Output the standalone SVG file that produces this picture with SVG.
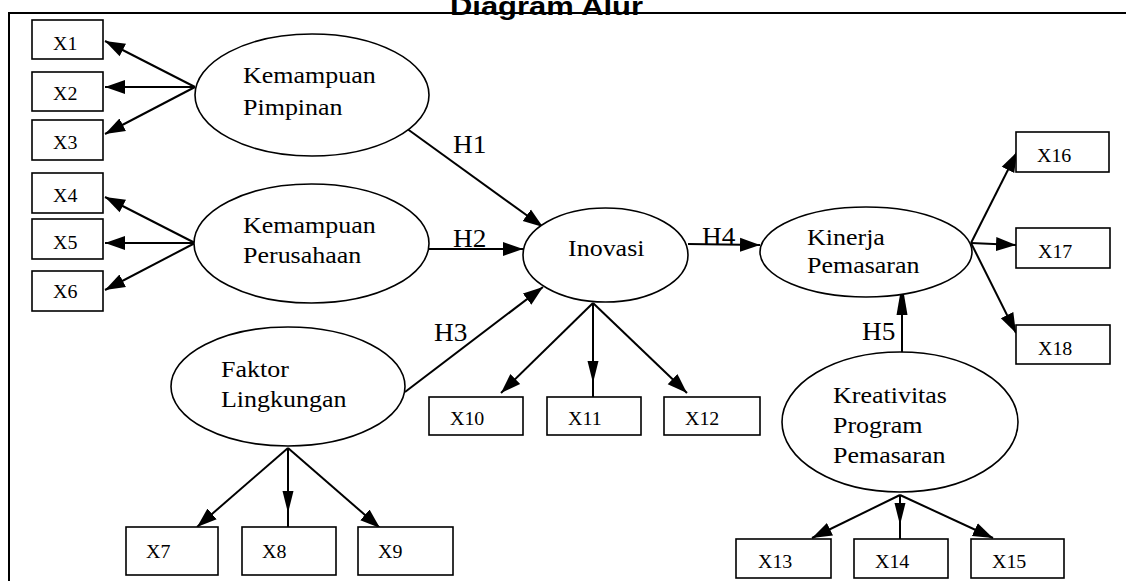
<svg xmlns="http://www.w3.org/2000/svg" width="1126" height="581" viewBox="0 0 1126 581">
<defs>
<style>
.frame{stroke:#000;stroke-width:2;fill:none}
.box{fill:#fff;stroke:#000;stroke-width:1.6}
.ell{fill:#fff;stroke:#000;stroke-width:1.6}
.lbl{font-family:"Liberation Serif","Times New Roman",serif;font-size:23px;fill:#000}
.xl{font-family:"Liberation Serif","Times New Roman",serif;font-size:19px;fill:#000}
.hl{font-family:"Liberation Serif","Times New Roman",serif;font-size:26px;fill:#000}
.title{font-family:"Liberation Sans",Arial,sans-serif;font-size:26px;font-weight:bold;fill:#000}
.con{stroke:#000;stroke-width:2;fill:none;marker-end:url(#arr)}
.conv{stroke:#000;stroke-width:2;fill:none;marker-end:url(#arrIn)}
</style>
<marker id="arr" markerUnits="userSpaceOnUse" markerWidth="22" markerHeight="16" viewBox="0 0 22 16" refX="20" refY="8" orient="auto">
<path d="M0,1 L20,8 L0,15 Z" fill="#000"/>
</marker>
<marker id="arrIn" markerUnits="userSpaceOnUse" markerWidth="40" markerHeight="14" viewBox="0 0 40 14" refX="36" refY="7" orient="auto">
<path d="M0,1.5 L22,7 L0,12.5 Z" fill="#000"/>
</marker>
<marker id="arrLong" markerUnits="userSpaceOnUse" markerWidth="34" markerHeight="14" viewBox="0 0 34 14" refX="32" refY="7" orient="auto">
<path d="M0,1.5 L32,7 L0,12.5 Z" fill="#000"/>
</marker>
</defs>

<g id="frame">
<line class="frame" x1="8" y1="13" x2="1126" y2="13"/>
<line class="frame" x1="9" y1="13" x2="9" y2="581"/>
<text class="title" transform="translate(450,15) scale(1.19,1)">Diagram Alur</text>
</g>

<g id="connectors">
<line class="con" x1="195" y1="87" x2="105" y2="41"/>
<line class="con" x1="195" y1="87" x2="105" y2="87"/>
<line class="con" x1="195" y1="87" x2="105" y2="134"/>
<line class="con" x1="195" y1="243" x2="105" y2="197"/>
<line class="con" x1="195" y1="243" x2="105" y2="243"/>
<line class="con" x1="195" y1="243" x2="105" y2="290"/>
<line class="con" x1="406" y1="128" x2="543" y2="227"/>
<line class="con" x1="429" y1="249" x2="523" y2="249"/>
<line class="con" x1="405" y1="392" x2="543" y2="287"/>
<line class="con" x1="688" y1="244" x2="760" y2="245"/>
<line class="con" x1="593" y1="303" x2="501" y2="393"/>
<line class="conv" x1="593" y1="303" x2="593" y2="397"/>
<line class="con" x1="593" y1="303" x2="687" y2="393"/>
<line class="con" x1="288" y1="448" x2="197" y2="527"/>
<line class="conv" x1="288" y1="448" x2="288" y2="527"/>
<line class="con" x1="288" y1="448" x2="380" y2="528"/>
<line class="con" x1="971" y1="243" x2="1017" y2="152"/>
<line class="con" x1="971" y1="243" x2="1016" y2="245"/>
<line class="con" x1="971" y1="243" x2="1016" y2="333"/>
<line stroke="#000" stroke-width="2" marker-end="url(#arrLong)" x1="902" y1="352" x2="902" y2="283"/>
<line class="con" x1="900" y1="495" x2="812" y2="538"/>
<line class="conv" x1="900" y1="495" x2="900" y2="539"/>
<line class="con" x1="900" y1="495" x2="993" y2="538"/>
</g>

<g id="hlabels">
<text class="hl" transform="translate(453,153) scale(1.05,1)">H1</text>
<text class="hl" transform="translate(453,247) scale(1.05,1)">H2</text>
<text class="hl" transform="translate(434,341) scale(1.05,1)">H3</text>
<text class="hl" transform="translate(702,245) scale(1.05,1)">H4</text>
<text class="hl" transform="translate(862,340) scale(1.05,1)">H5</text>
</g>

<g id="kemampuan-pimpinan">
<ellipse class="ell" cx="312" cy="95" rx="117" ry="61"/>
<text class="lbl" transform="translate(243,83) scale(1.13,1)">Kemampuan</text>
<text class="lbl" transform="translate(243,115) scale(1.13,1)">Pimpinan</text>
</g>
<g id="kemampuan-perusahaan">
<ellipse class="ell" cx="311.5" cy="243.5" rx="117.5" ry="59.5"/>
<text class="lbl" transform="translate(243,233) scale(1.13,1)">Kemampuan</text>
<text class="lbl" transform="translate(243,263) scale(1.13,1)">Perusahaan</text>
</g>
<g id="faktor-lingkungan">
<ellipse class="ell" cx="288" cy="386.5" rx="117" ry="59.5"/>
<text class="lbl" transform="translate(221,377) scale(1.13,1)">Faktor</text>
<text class="lbl" transform="translate(221,407) scale(1.13,1)">Lingkungan</text>
</g>
<g id="inovasi">
<ellipse class="ell" cx="605.5" cy="255" rx="82.5" ry="47"/>
<text class="lbl" transform="translate(568,256) scale(1.13,1)">Inovasi</text>
</g>
<g id="kinerja-pemasaran">
<ellipse class="ell" cx="866" cy="252" rx="106" ry="45"/>
<text class="lbl" transform="translate(807,245) scale(1.13,1)">Kinerja</text>
<text class="lbl" transform="translate(807,273) scale(1.13,1)">Pemasaran</text>
</g>
<g id="kreativitas-program-pemasaran">
<ellipse class="ell" cx="900" cy="422" rx="118" ry="70"/>
<text class="lbl" transform="translate(833,403) scale(1.13,1)">Kreativitas</text>
<text class="lbl" transform="translate(833,433) scale(1.13,1)">Program</text>
<text class="lbl" transform="translate(833,463) scale(1.13,1)">Pemasaran</text>
</g>

<g id="x1"><rect class="box" x="32" y="20" width="71" height="39"/><text class="xl" transform="translate(53,50) scale(1.05,1)">X1</text></g>
<g id="x2"><rect class="box" x="32" y="72" width="71" height="39"/><text class="xl" transform="translate(53,100) scale(1.05,1)">X2</text></g>
<g id="x3"><rect class="box" x="32" y="120" width="71" height="40"/><text class="xl" transform="translate(53,149) scale(1.05,1)">X3</text></g>
<g id="x4"><rect class="box" x="32" y="173" width="71" height="40"/><text class="xl" transform="translate(53,202) scale(1.05,1)">X4</text></g>
<g id="x5"><rect class="box" x="32" y="219" width="71" height="40"/><text class="xl" transform="translate(53,249) scale(1.05,1)">X5</text></g>
<g id="x6"><rect class="box" x="32" y="271" width="71" height="40"/><text class="xl" transform="translate(53,298) scale(1.05,1)">X6</text></g>
<g id="x7"><rect class="box" x="126" y="527" width="92" height="48"/><text class="xl" transform="translate(146,558) scale(1.05,1)">X7</text></g>
<g id="x8"><rect class="box" x="242" y="527" width="94" height="48"/><text class="xl" transform="translate(262,558) scale(1.05,1)">X8</text></g>
<g id="x9"><rect class="box" x="358" y="527" width="95" height="48"/><text class="xl" transform="translate(378,558) scale(1.05,1)">X9</text></g>
<g id="x10"><rect class="box" x="429" y="397" width="94" height="38"/><text class="xl" transform="translate(450,425) scale(1.05,1)">X10</text></g>
<g id="x11"><rect class="box" x="547" y="397" width="94" height="38"/><text class="xl" transform="translate(568,425) scale(1.05,1)">X11</text></g>
<g id="x12"><rect class="box" x="664" y="397" width="96" height="38"/><text class="xl" transform="translate(685,425) scale(1.05,1)">X12</text></g>
<g id="x13"><rect class="box" x="736" y="539" width="95" height="39"/><text class="xl" transform="translate(758,568) scale(1.05,1)">X13</text></g>
<g id="x14"><rect class="box" x="854" y="539" width="94" height="39"/><text class="xl" transform="translate(875,568) scale(1.05,1)">X14</text></g>
<g id="x15"><rect class="box" x="971" y="539" width="93" height="39"/><text class="xl" transform="translate(992,568) scale(1.05,1)">X15</text></g>
<g id="x16"><rect class="box" x="1016" y="132" width="93" height="40"/><text class="xl" transform="translate(1037,162) scale(1.05,1)">X16</text></g>
<g id="x17"><rect class="box" x="1016" y="228" width="94" height="40"/><text class="xl" transform="translate(1038,258) scale(1.05,1)">X17</text></g>
<g id="x18"><rect class="box" x="1016" y="325" width="94" height="39"/><text class="xl" transform="translate(1038,355) scale(1.05,1)">X18</text></g>
</svg>
